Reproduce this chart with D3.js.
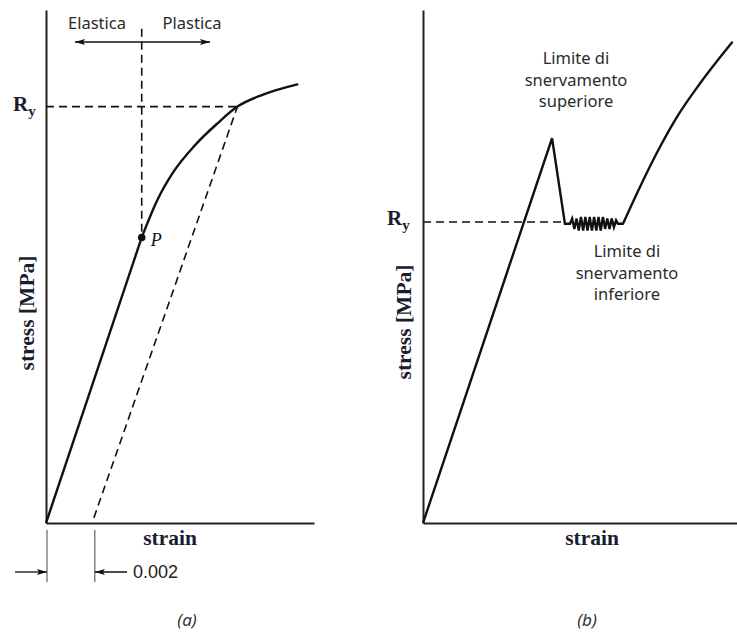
<!DOCTYPE html>
<html>
<head>
<meta charset="utf-8">
<script src="https://cdn.jsdelivr.net/npm/d3@7/dist/d3.min.js"></script>
<style>
  html, body { margin: 0; padding: 0; background: #fff; }
  svg { display: block; }
</style>
</head>
<body>
<svg id="chart" width="737" height="632"></svg>
<script>
// ---- (a) material without a yield plateau: elastic line, then hardening curve
const strainA = [0, 0.0040, 0.00464, 0.00531, 0.00623, 0.00715, 0.0080, 0.00907, 0.0105];
const stressA = [0, 167, 188.5, 205, 221, 233.5, 243.5, 250.5, 256.5];
const proportionalIndexA = 1;   // point P (end of the elastic line)
const yieldIndexA = 6;          // Ry found by the 0.2 % offset line
const offsetStrain = 0.002;
const offsetLabel = "0.002";
const offsetStartStress = 3;
const regionTopStress = 289;
const regionLabels = ["Elastica", "Plastica"];

// ---- (b) material with upper and lower yield points
const strainB = [0, 0.411, 0.452,
  0.468, 0.475, 0.482, 0.489, 0.496, 0.503, 0.510, 0.517, 0.524, 0.531, 0.538, 0.545,
  0.552, 0.559, 0.566, 0.573, 0.580, 0.587, 0.594, 0.601, 0.608, 0.615, 0.621,
  0.637, 0.691, 0.755, 0.809, 0.882, 0.984];
const stressB = [0, 225, 175,
  175, 178, 172, 178, 171, 179, 171, 179, 171, 179, 171, 179,
  171, 179, 171, 179, 172, 178, 172, 178, 173, 177, 175,
  175, 196.5, 220, 237.5, 257, 281];
const hardeningStartB = 26;     // index where strain hardening begins
const plateauStartB = 2;        // lower yield point reached after the drop
const yieldStressB = 176;
const upperLabel = ["Limite di", "snervamento", "superiore"];
const lowerLabel = ["Limite di", "snervamento", "inferiore"];

const axisTitleX = "strain";
const axisTitleY = "stress [MPa]";
const panelCaptions = ["(a)", "(b)"];

const svg = d3.select("#chart");
const ink = "#111";
const titleInk = "#1c1c30";

// scales
const xA = d3.scaleLinear().domain([0, 0.0112]).range([46, 314]);
const xB = d3.scaleLinear().domain([0, 1]).range([423, 737]);
const y = d3.scaleLinear().domain([0, 300]).range([523, 10]);

// arrowhead markers
const defs = svg.append("defs");
function marker(id) {
  defs.append("marker")
    .attr("id", id)
    .attr("viewBox", "0 0 10 6")
    .attr("refX", 10).attr("refY", 3)
    .attr("markerWidth", 10).attr("markerHeight", 6)
    .attr("markerUnits", "userSpaceOnUse")
    .attr("orient", "auto-start-reverse")
    .append("path")
    .attr("d", "M0,0 L10,3 L0,6 L2,3 Z")
    .attr("fill", ink);
}
marker("arrow");

// axes without ticks
function axes(x) {
  svg.append("g")
    .attr("transform", `translate(0,${y(0)})`)
    .call(d3.axisBottom(x).tickValues([]).tickSizeOuter(0))
    .select(".domain").attr("stroke", "#222").attr("stroke-width", 2);
  svg.append("g")
    .attr("transform", `translate(${x(0)},0)`)
    .call(d3.axisLeft(y).tickValues([]).tickSizeOuter(0))
    .select(".domain").attr("stroke", "#222").attr("stroke-width", 2);
}
axes(xA);
axes(xB);

function axisTitles(x, cx, sy) {
  svg.append("text")
    .attr("x", cx).attr("y", 545)
    .attr("text-anchor", "middle")
    .attr("font-family", "Liberation Serif, serif")
    .attr("font-weight", "bold")
    .attr("font-size", 21.5)
    .attr("fill", titleInk)
    .text(axisTitleX);
  svg.append("text")
    .attr("transform", `translate(${x(0) - 12},${sy}) rotate(-90)`)
    .attr("text-anchor", "middle")
    .attr("font-family", "Liberation Serif, serif")
    .attr("font-weight", "bold")
    .attr("font-size", 21.5)
    .attr("fill", titleInk)
    .text(axisTitleY);
}
axisTitles(xA, 170, 313);
axisTitles(xB, 592, 322);

function ryLabel(xpos, ypos) {
  const t = svg.append("text")
    .attr("x", xpos).attr("y", ypos)
    .attr("font-family", "Liberation Serif, serif")
    .attr("font-weight", "bold")
    .attr("font-size", 21)
    .attr("fill", titleInk);
  t.append("tspan").text("R");
  t.append("tspan").attr("dy", 5).attr("font-size", 15).text("y");
}

const dash = "8,5";

// ---------------- panel (a) ----------------
const ptsA = strainA.map((s, i) => [s, stressA[i]]);
const lineA = d3.line().x(d => xA(d[0])).y(d => y(d[1]));
const elastic = ptsA.slice(0, proportionalIndexA + 1);
const plastic = ptsA.slice(proportionalIndexA);
svg.append("path")
  .attr("d", lineA.curve(d3.curveLinear)(elastic))
  .attr("fill", "none").attr("stroke", ink).attr("stroke-width", 2.4);
svg.append("path")
  .attr("d", lineA.curve(d3.curveMonotoneX)(plastic))
  .attr("fill", "none").attr("stroke", ink).attr("stroke-width", 2.4)
  .attr("stroke-linecap", "round");

const P = ptsA[proportionalIndexA];
const Y = ptsA[yieldIndexA];

// Ry horizontal
svg.append("line")
  .attr("x1", xA(0)).attr("x2", xA(Y[0]))
  .attr("y1", y(Y[1])).attr("y2", y(Y[1]))
  .attr("stroke", ink).attr("stroke-width", 1.6).attr("stroke-dasharray", dash);
// offset line parallel to the elastic branch
svg.append("line")
  .attr("x1", xA(offsetStrain)).attr("y1", y(offsetStartStress))
  .attr("x2", xA(Y[0])).attr("y2", y(Y[1]))
  .attr("stroke", ink).attr("stroke-width", 1.6).attr("stroke-dasharray", dash);
// vertical line through P separating elastic / plastic regions
svg.append("line")
  .attr("x1", xA(P[0])).attr("x2", xA(P[0]))
  .attr("y1", y(regionTopStress)).attr("y2", y(P[1]))
  .attr("stroke", ink).attr("stroke-width", 1.6).attr("stroke-dasharray", dash);
svg.append("circle")
  .attr("cx", xA(P[0])).attr("cy", y(P[1])).attr("r", 3.8).attr("fill", ink);
svg.append("text")
  .attr("x", xA(P[0]) + 9).attr("y", y(P[1]) + 9)
  .attr("font-family", "Liberation Serif, serif")
  .attr("font-style", "italic")
  .attr("font-size", 18).attr("fill", ink)
  .text("P");

// region arrow and labels
svg.append("line")
  .attr("x1", 75).attr("x2", 210).attr("y1", 42).attr("y2", 42)
  .attr("stroke", ink).attr("stroke-width", 1.5)
  .attr("marker-start", "url(#arrow)").attr("marker-end", "url(#arrow)");
svg.append("text")
  .attr("x", 97).attr("y", 29).attr("text-anchor", "middle")
  .attr("font-family", "Noto Sans, sans-serif").attr("font-size", 16.5)
  .attr("fill", "#2a2a2a").text(regionLabels[0]);
svg.append("text")
  .attr("x", 192).attr("y", 29).attr("text-anchor", "middle")
  .attr("font-family", "Noto Sans, sans-serif").attr("font-size", 16.5)
  .attr("fill", "#2a2a2a").text(regionLabels[1]);

ryLabel(13, y(Y[1]) + 4);

// 0.002 offset dimension
[0, offsetStrain].forEach(s => {
  svg.append("line")
    .attr("x1", xA(s) + 1).attr("x2", xA(s) + 1)
    .attr("y1", 530).attr("y2", 582)
    .attr("stroke", "#444").attr("stroke-width", 1);
});
svg.append("line")
  .attr("x1", 15).attr("x2", xA(0) + 1).attr("y1", 572).attr("y2", 572)
  .attr("stroke", ink).attr("stroke-width", 1.3).attr("marker-end", "url(#arrow)");
svg.append("line")
  .attr("x1", 127).attr("x2", xA(offsetStrain) + 1).attr("y1", 572).attr("y2", 572)
  .attr("stroke", ink).attr("stroke-width", 1.3).attr("marker-end", "url(#arrow)");
svg.append("text")
  .attr("x", 133).attr("y", 578)
  .attr("font-family", "Liberation Sans, Arial, sans-serif").attr("font-size", 18)
  .attr("fill", "#222").text(offsetLabel);

// ---------------- panel (b) ----------------
const ptsB = strainB.map((s, i) => [s, stressB[i]]);
const lineB = d3.line().x(d => xB(d[0])).y(d => y(d[1]));
svg.append("path")
  .attr("d", lineB.curve(d3.curveLinear)(ptsB.slice(0, hardeningStartB + 1)))
  .attr("fill", "none").attr("stroke", ink).attr("stroke-width", 2.4)
  .attr("stroke-linejoin", "miter");
svg.append("path")
  .attr("d", lineB.curve(d3.curveMonotoneX)(ptsB.slice(hardeningStartB)))
  .attr("fill", "none").attr("stroke", ink).attr("stroke-width", 2.4)
  .attr("stroke-linecap", "round");

svg.append("line")
  .attr("x1", xB(0)).attr("x2", xB(strainB[plateauStartB]))
  .attr("y1", y(yieldStressB)).attr("y2", y(yieldStressB))
  .attr("stroke", ink).attr("stroke-width", 1.6).attr("stroke-dasharray", dash);

ryLabel(387, y(yieldStressB) + 3);

function block(lines, cx, y0) {
  lines.forEach((t, i) => {
    svg.append("text")
      .attr("x", cx).attr("y", y0 + i * 21.5)
      .attr("text-anchor", "middle")
      .attr("font-family", "Noto Sans, sans-serif").attr("font-size", 16.5)
      .attr("fill", "#2a2a2a").text(t);
  });
}
block(upperLabel, 576, 64);
block(lowerLabel, 627, 257);

// captions
[[187, panelCaptions[0]], [587, panelCaptions[1]]].forEach(([cx, t]) => {
  svg.append("text")
    .attr("x", cx).attr("y", 626).attr("text-anchor", "middle")
    .attr("font-family", "Noto Sans, sans-serif").attr("font-style", "italic")
    .attr("font-size", 17).attr("fill", "#333").text(t);
});
</script>
</body>
</html>
